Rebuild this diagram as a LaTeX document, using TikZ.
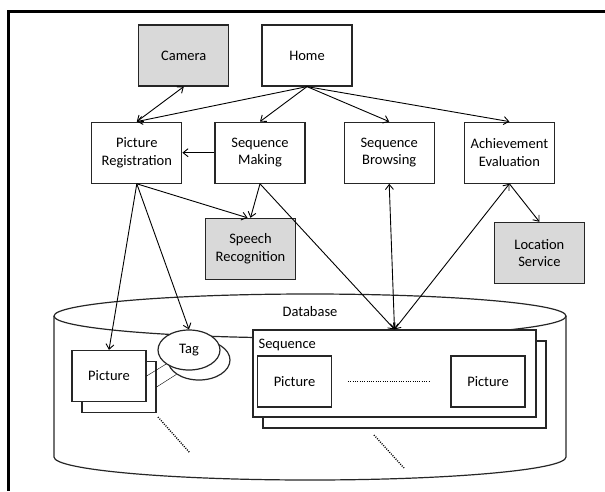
\documentclass[tikz,border=0pt]{standalone}
\usepackage{fontspec}
\setmainfont{Carlito}
\usepackage{tikz}
\usetikzlibrary{shapes.geometric, arrows.meta, positioning}
\tikzset{
    module/.style={rectangle, minimum width=90pt, minimum height=61pt, align=center, draw=black!85, line width=1.2pt, fill=white},
    external/.style={module, fill=gray!30},
    item/.style={rectangle, minimum width=74pt, minimum height=51pt, draw=black!85, line width=1.2pt, fill=white},
    tagshape/.style={ellipse, minimum width=62pt, minimum height=40pt, inner sep=0pt, draw=black!85, line width=1.2pt, fill=white},
    container/.style={rectangle, minimum width=283pt, minimum height=87pt, draw=black!85, line width=1.2pt, fill=white},
    arrow/.style={line width=0.9pt, -{Straight Barb[length=5pt,width=8pt]}},
    biarrow/.style={line width=0.9pt, {Straight Barb[length=5pt,width=8pt]}-{Straight Barb[length=5pt,width=8pt]}},
    dotline/.style={line width=1.4pt, dash pattern=on 1pt off 1.3pt}
}
\begin{document}
\begin{tikzpicture}[x=1pt, y=-1pt, node distance=35pt, font=\fontsize{14.5}{17.5}\selectfont]
    \useasboundingbox (0,0) rectangle (605,491);
    \draw [line width=3pt] (605,11) -| (8,491);

    \draw [line width=1.2pt, draw=black!85] (310,316) ellipse [x radius=256pt, y radius=22pt];
    \draw [line width=1.2pt, draw=black!85] (54,316) -- (54,457) arc [start angle=180, end angle=360, x radius=256pt, y radius=23pt] -- (566,316);
    \node (dblabel) at (310,312) {Database};

    \node (picback) [item] at (119,387) {};
    \node (pic) [item] at (109,376) {Picture};
    \node (tagback) [tagshape] at (199,360) {};
    \node (tag) [tagshape] at (189,350) {Tag};
    \node (seqback) [container] at (404.5,384.5) {};
    \node (seq) [container] at (394.5,373.5) {};
    \node (seqlabel) [anchor=base west, inner sep=0pt] at ([xshift=6pt, yshift=-19pt]seq.north west) {Sequence};
    \node (seqpicfirst) [item] at (294.5,381.5) {Picture};
    \node (seqpiclast) [item] at (488,381.5) {Picture};
    \draw [dotline] ([xshift=16pt]seqpicfirst.east) -- ([xshift=-20pt]seqpiclast.west);
    \draw [dotline] (158,417) -- (190,453);
    \draw [dotline] (374,435) -- (404,468);

    \node (home) [module] at (307,55.5) {Home};
    \node (camera) [external, left=32pt of home] {Camera};
    \node (seqmake) [module, below=35pt of home, xshift=-47pt] {Sequence\\Making};
    \node (picreg) [module, left=32pt of seqmake] {Picture\\Registration};
    \node (seqbrowse) [module, right=38pt of seqmake] {Sequence\\Browsing};
    \node (achieve) [module, right=29pt of seqbrowse] {Achievement\\Evaluation};
    \node (speech) [external, below=34pt of seqmake, xshift=-9.5pt] {Speech\\Recognition};
    \node (location) [external, below=38pt of achieve, xshift=30pt] {Location\\Service};

    \draw [arrow] (home.south) -- (picreg.north);
    \draw [arrow] (home.south) -- (seqmake.north);
    \draw [arrow] (home.south) -- (seqbrowse.north);
    \draw [arrow] (home.south) -- (achieve.north);
    \draw [biarrow] (picreg.north) -- (camera.south);
    \draw [arrow] (seqmake.west) -- (picreg.east);
    \draw [arrow] (seqmake.south) -- (speech.north);
    \draw [arrow] (picreg.south) -- ([xshift=-3pt]speech.north);
    \draw [arrow] (picreg.south) -- (pic.north);
    \draw [arrow] (picreg.south) -- (tag.north);
    \draw (pic.east) -- (tag);
    \draw (picback.east) -- (tagback);
    \draw [arrow] (seqmake.south) -- (seq.north);
    \draw [biarrow] (seqbrowse.south) -- (seq.north);
    \draw [biarrow] (achieve.south) -- (seq.north);
    \draw [arrow] (achieve.south) -- (location.north);
\end{tikzpicture}
\end{document}
